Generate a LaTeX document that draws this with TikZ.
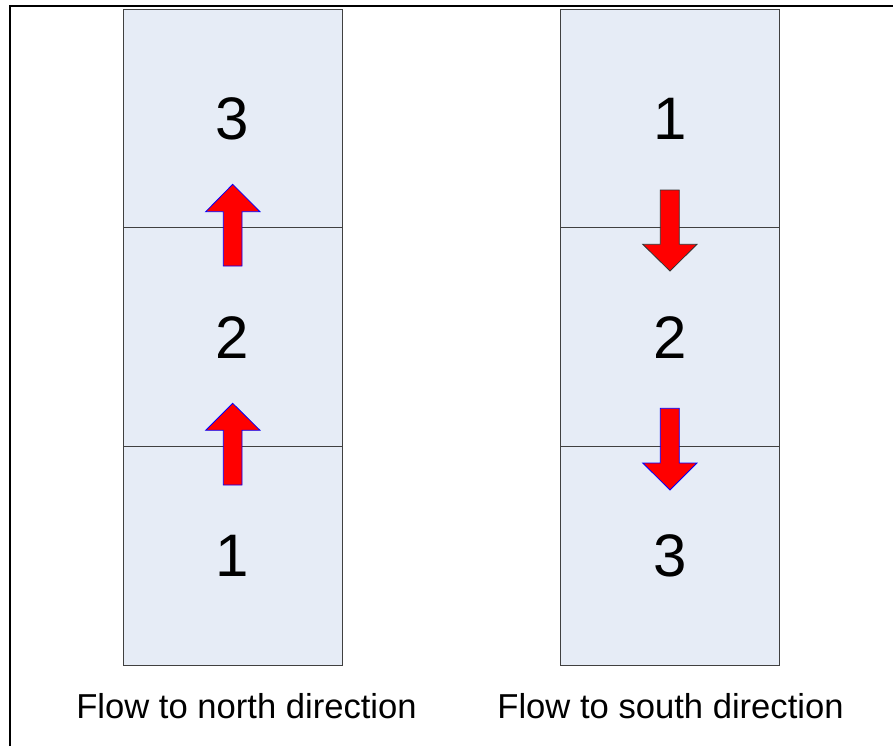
\documentclass[tikz,border=0pt]{standalone}
\usepackage{fontspec}
\setmainfont{Liberation Sans}
\begin{document}
\begin{tikzpicture}[x=1pt,y=-1pt,
  cell/.style={draw=black!75,fill={rgb,255:red,230;green,236;blue,246},line width=0.9pt,minimum width=219pt,minimum height=218.7pt,inner sep=0pt,font=\fontsize{60}{62}\selectfont},
  lbl/.style={font=\fontsize{34.6}{36}\selectfont,inner sep=0pt},
  flowarrow/.style={fill=red,draw=blue,line width=0.8pt,line join=miter}]
\useasboundingbox (0,0) rectangle (893,746);
\draw[line width=2pt] (10,746) -- (10,6) -- (893,6);
% left column
\node[cell] (L3) at (232.5,118.5) {3};
\node[cell] (L2) at (232.5,337.2) {2};
\node[cell] (L1) at (232.5,555.9) {1};
% right column
\node[cell] (R1) at (670,118.5) {1};
\node[cell] (R2) at (670,337.2) {2};
\node[cell] (R3) at (670,555.9) {3};
% up arrows
\draw[flowarrow] (223.3,266) -- (223.3,211.7) -- (205.7,211.7) -- (232.7,184.3) -- (260,211.7) -- (242,211.7) -- (242,266) -- cycle;
\draw[flowarrow] (223.3,485) -- (223.3,430.3) -- (205.7,430.3) -- (232.7,403.3) -- (260,430.3) -- (242,430.3) -- (242,485) -- cycle;
% down arrows
\draw[flowarrow,draw=black!80] (660.3,190) -- (660.3,244.3) -- (642.7,244.3) -- (670,271) -- (697,244.3) -- (679.3,244.3) -- (679.3,190) -- cycle;
\draw[flowarrow] (660.3,408.3) -- (660.3,463) -- (642.7,463) -- (670,490) -- (697,463) -- (679.3,463) -- (679.3,408.3) -- cycle;
% labels
\node[lbl] (nl) at (246.5,706) {Flow to north direction};
\node[lbl] (sl) at (670.5,706) {Flow to south direction};
\end{tikzpicture}
\end{document}
